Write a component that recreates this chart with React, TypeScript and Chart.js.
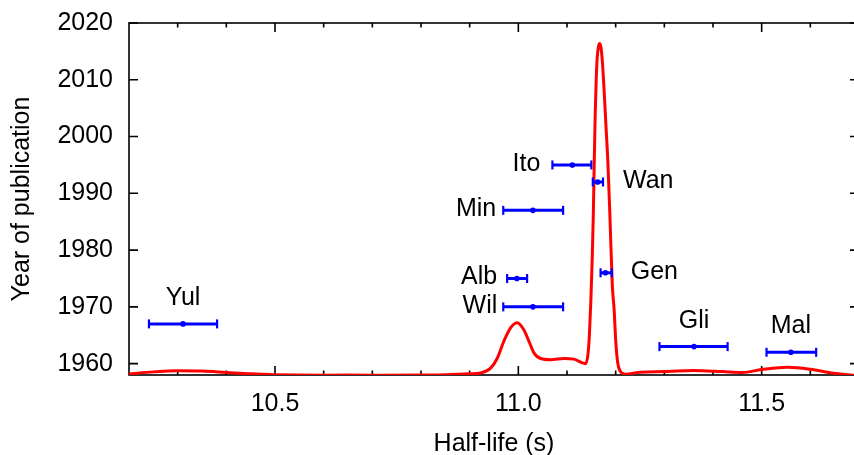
import React, { useEffect, useRef } from "react";
import { Chart, registerables } from "chart.js";

Chart.register(...registerables);

const FONT = "'Liberation Sans', Arial, Helvetica, sans-serif";

// measurements: half-life (s) with uncertainty, year of publication
const names = ["Yul", "Alb", "Wil", "Min", "Ito", "Wan", "Gen", "Gli", "Mal"];
const years = [1967, 1975, 1970, 1987, 1995, 1992, 1976, 1963, 1962];
const halfLife = [10.311, 10.997, 11.03, 11.03, 11.111, 11.163, 11.179, 11.361, 11.56];
const halfLifeLow = [10.241, 10.977, 10.969, 10.969, 11.07, 11.153, 11.169, 11.29, 11.51];
const halfLifeHigh = [10.381, 11.018, 11.092, 11.092, 11.15, 11.174, 11.192, 11.43, 11.612];

// combined density curve (scaled onto the year axis)
const curveX = [
  10.2, 10.25, 10.3, 10.35, 10.4, 10.45, 10.5, 10.6, 10.7, 10.8, 10.85, 10.9,
  10.922, 10.943, 10.957, 10.97, 10.984, 10.998, 11.011, 11.022, 11.032,
  11.046, 11.066, 11.094, 11.114, 11.131, 11.138, 11.143, 11.146, 11.149,
  11.152, 11.154, 11.156, 11.158, 11.16, 11.162, 11.165, 11.167, 11.17,
  11.173, 11.176, 11.18, 11.184, 11.188, 11.193, 11.197, 11.2, 11.204,
  11.208, 11.214, 11.22, 11.25, 11.3, 11.36, 11.42, 11.46, 11.5, 11.553,
  11.6, 11.648, 11.7
];
const curveY = [
  1958.2, 1958.55, 1958.75, 1958.7, 1958.45, 1958.2, 1958.05, 1957.95, 1957.95,
  1958.0, 1958.05, 1958.2, 1958.35, 1959.2, 1961.0, 1963.9, 1966.3, 1967.2,
  1966.0, 1963.9, 1961.9, 1960.9, 1960.7, 1960.9, 1960.8, 1960.15, 1960.0,
  1961.6, 1965, 1971, 1979, 1986, 1995.5, 2004, 2010, 2013.8, 2016, 2016.4,
  2015.6, 2012.8, 2008.5, 2002, 1995.5, 1986.5, 1974, 1969.3, 1964.2, 1960.3,
  1958.9, 1958.3, 1958.15, 1958.5, 1958.6, 1958.8, 1958.6, 1958.45, 1958.95,
  1959.35, 1959.0, 1958.3, 1957.9
];

const xTicks = [10.5, 11.0, 11.5];
const yTicks = [1960, 1970, 1980, 1990, 2000, 2010, 2020];

// where each name label sits relative to its error bar (pixels)
const labelPlacement: Record<string, { side: string; gap: number }> = {
  Yul: { side: "above", gap: 26 },
  Alb: { side: "left", gap: 10 },
  Wil: { side: "left", gap: 6 },
  Min: { side: "left", gap: 7 },
  Ito: { side: "left", gap: 12 },
  Wan: { side: "right", gap: 20 },
  Gen: { side: "right", gap: 19 },
  Gli: { side: "above", gap: 26 },
  Mal: { side: "above", gap: 26 }
};

const BLUE = "#0000ff";

// gnuplot-like frame with inward ticks on all four sides
const framePlugin = {
  id: "frame",
  beforeDatasetsDraw(chart: any) {
    const { ctx, chartArea: a, scales } = chart;
    const xs = scales.x;
    const ys = scales.y;
    ctx.save();
    ctx.strokeStyle = "#000";
    ctx.lineWidth = 1.6;
    ctx.strokeRect(a.left, a.top, a.right - a.left, a.bottom - a.top);
    ctx.beginPath();
    const n = Math.round((xs.max - xs.min) / 0.1);
    for (let i = 1; i < n; i++) {
      const v = xs.min + i * 0.1;
      const major = Math.abs(v * 2 - Math.round(v * 2)) < 1e-6;
      const len = major ? 9 : 4.5;
      const px = xs.getPixelForValue(v);
      ctx.moveTo(px, a.bottom);
      ctx.lineTo(px, a.bottom - len);
      ctx.moveTo(px, a.top);
      ctx.lineTo(px, a.top + len);
    }
    yTicks.forEach((v) => {
      const py = ys.getPixelForValue(v);
      ctx.moveTo(a.left, py);
      ctx.lineTo(a.left + 9, py);
      ctx.moveTo(a.right, py);
      ctx.lineTo(a.right - 9, py);
    });
    ctx.stroke();
    ctx.restore();
  }
};

const labelPlugin = {
  id: "barLabels",
  afterDatasetsDraw(chart: any) {
    const { ctx, scales } = chart;
    ctx.save();
    ctx.font = `25px ${FONT}`;
    ctx.fillStyle = "#000";
    ctx.textBaseline = "middle";
    names.forEach((name, i) => {
      const p = labelPlacement[name];
      const py = scales.y.getPixelForValue(years[i]);
      if (p.side === "above") {
        ctx.textAlign = "center";
        ctx.fillText(name, scales.x.getPixelForValue(halfLife[i]), py - p.gap);
      } else if (p.side === "left") {
        ctx.textAlign = "right";
        ctx.fillText(name, scales.x.getPixelForValue(halfLifeLow[i]) - p.gap, py - 1);
      } else {
        ctx.textAlign = "left";
        ctx.fillText(name, scales.x.getPixelForValue(halfLifeHigh[i]) + p.gap, py - 1);
      }
    });
    ctx.restore();
  }
};

const App: React.FC = () => {
  const chartRef = useRef<HTMLCanvasElement | null>(null);

  useEffect(() => {
    if (!chartRef.current) return;
    const ctx = chartRef.current.getContext("2d");
    if (!ctx) return;

    const barSets = names.map((name, i) => ({
      type: "line" as const,
      label: name,
      data: [
        { x: halfLifeLow[i], y: years[i] },
        { x: halfLifeHigh[i], y: years[i] }
      ],
      borderColor: BLUE,
      borderWidth: 3,
      pointStyle: "line" as const,
      pointRotation: 90,
      pointRadius: 4.5,
      pointBorderWidth: 2.2,
      pointBorderColor: BLUE,
      pointBackgroundColor: BLUE,
      order: 1
    }));

    const chartInstance = new Chart(ctx, {
      type: "line",
      data: {
        datasets: [
          ...barSets,
          {
            type: "scatter" as const,
            label: "centres",
            data: halfLife.map((v, i) => ({ x: v, y: years[i] })),
            pointRadius: 2.8,
            pointBackgroundColor: BLUE,
            pointBorderColor: BLUE,
            pointBorderWidth: 0,
            order: 0
          },
          {
            type: "line" as const,
            label: "density",
            data: curveX.map((v, i) => ({ x: v, y: curveY[i] })),
            borderColor: "#ff0000",
            borderWidth: 3,
            pointRadius: 0,
            cubicInterpolationMode: "monotone" as const,
            order: 5
          }
        ]
      },
      options: {
        animation: false,
        responsive: true,
        maintainAspectRatio: false,
        layout: { padding: { left: 0, top: 23, right: 11, bottom: 0 } },
        plugins: {
          legend: { display: false },
          tooltip: { enabled: false }
        },
        scales: {
          x: {
            type: "linear",
            min: 10.2,
            max: 11.7,
            grid: { display: false, drawTicks: false },
            border: { display: false },
            afterBuildTicks: (scale: any) => {
              scale.ticks = xTicks.map((v) => ({ value: v }));
            },
            afterFit: (scale: any) => {
              scale.height = 80;
              scale.paddingLeft = 0;
              scale.paddingRight = 0;
            },
            ticks: {
              padding: 14,
              color: "#000",
              font: { family: FONT, size: 25 },
              maxRotation: 0,
              callback: (v: any) => Number(v).toFixed(1)
            },
            title: {
              display: true,
              text: "Half-life (s)",
              color: "#000",
              font: { family: FONT, size: 25, lineHeight: 1 },
              padding: { top: 0, bottom: -2 }
            }
          },
          y: {
            type: "linear",
            min: 1958,
            max: 2020,
            grid: { display: false, drawTicks: false },
            border: { display: false },
            afterBuildTicks: (scale: any) => {
              scale.ticks = yTicks.map((v) => ({ value: v }));
            },
            afterFit: (scale: any) => {
              scale.width = 129;
              scale.paddingTop = 0;
              scale.paddingBottom = 0;
            },
            ticks: {
              padding: 16,
              color: "#000",
              font: { family: FONT, size: 25 },
              callback: (v: any) => String(v)
            },
            title: {
              display: true,
              text: "Year of publication",
              color: "#000",
              font: { family: FONT, size: 25, lineHeight: 1 },
              padding: { top: 10, bottom: 0 }
            }
          }
        }
      },
      plugins: [framePlugin, labelPlugin]
    });

    return () => {
      chartInstance.destroy();
    };
  }, []);

  return (
    <div
      style={{
        position: "fixed",
        left: 0,
        top: 0,
        width: 854,
        height: 455,
        overflow: "hidden",
        background: "#fff"
      }}
    >
      <div style={{ position: "relative", width: 870, height: 455 }}>
        <canvas ref={chartRef} />
      </div>
    </div>
  );
};

export default App;
